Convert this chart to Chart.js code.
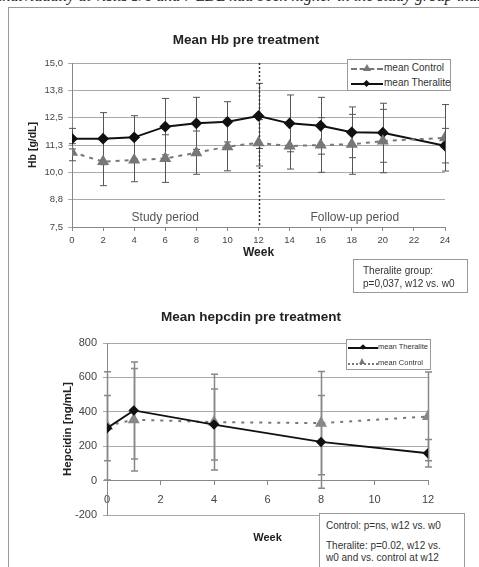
<!DOCTYPE html>
<html>
<head>
<meta charset="utf-8">
<script src="https://cdn.jsdelivr.net/npm/chart.js@4.4.1/dist/chart.umd.min.js"></script>
<style>
  body { margin:0; width:479px; height:567px; overflow:hidden; background:#fff; position:relative;
         font-family:'Liberation Sans', Arial, sans-serif; }
  .abs { position:absolute; }
  .cut { left:0; top:0; width:479px; height:6px; overflow:hidden; }
  .cut div { position:absolute; left:-2px; top:-12px; white-space:nowrap; font:italic 16px/16px 'Liberation Serif', 'Times New Roman', serif; color:#222; }
  .box { position:absolute; box-sizing:border-box; background:#fff; border:1px solid #999; color:#333; }
  .leg .row { position:absolute; left:0; right:0; height:14px; }
  .leg .smp { position:absolute; top:7px; height:0; }
  .leg .t { position:absolute; top:0; line-height:14px; white-space:nowrap; }
  .tri { position:absolute; width:0; height:0; border-left:4px solid transparent; border-right:4px solid transparent; border-bottom:7px solid #777; }
  .dia { position:absolute; width:5px; height:5px; background:#111; transform:rotate(45deg); }
</style>
</head>
<body>

<div class="abs cut"><div>individually at visits 5/6 and 7 LDL had been higher in the study group than in the control group</div></div>
<div class="abs" style="left:8px;top:7px;width:480px;height:1px;background:#999"></div>
<div class="abs" style="left:8px;top:7px;width:1px;height:570px;background:#999"></div>

<div class="abs" style="left:13px;top:8px;width:466px;height:255px"><canvas id="hb"></canvas></div>
<div class="abs" style="left:22px;top:300px;width:458px;height:267px"><canvas id="hep"></canvas></div>

<!-- legend, Hb chart -->
<div class="box leg" style="left:347px;top:59px;width:104px;height:32px;font-size:10px">
  <div class="row" style="top:1px">
    <div class="smp" style="left:3px;width:32px;border-top:2px dashed #777"></div>
    <div class="tri" style="left:15px;top:3px"></div>
    <div class="t" style="left:36px">mean Control</div>
  </div>
  <div class="row" style="top:16px">
    <div class="smp" style="left:3px;width:32px;border-top:2px solid #111"></div>
    <div class="dia" style="left:16px;top:5px"></div>
    <div class="t" style="left:36px">mean Theralite</div>
  </div>
</div>

<!-- legend, hepcidin chart -->
<div class="box leg" style="left:346px;top:339px;width:85px;height:31px;font-size:7.5px">
  <div class="row" style="top:0px">
    <div class="smp" style="left:1px;width:30px;border-top:2px solid #111"></div>
    <div class="dia" style="left:14px;top:5px;width:4px;height:4px"></div>
    <div class="t" style="left:31px">mean Theralite</div>
  </div>
  <div class="row" style="top:16px">
    <div class="smp" style="left:1px;width:30px;border-top:2px dotted #777"></div>
    <div class="tri" style="left:12px;top:2px;border-bottom-width:6px;border-left-width:3.5px;border-right-width:3.5px"></div>
    <div class="t" style="left:31px">mean Control</div>
  </div>
</div>

<div class="box" style="left:353px;top:259px;width:115px;height:34px;font-size:10px;line-height:13px;padding:4px 0 0 9px">
  Theralite group:<br>p=0,037, w12 vs. w0
</div>

<div class="box" style="left:319px;top:513px;width:146px;height:62px;font-size:10px;line-height:12px;padding:6px 0 0 6px">
  <div>Control: p=ns, w12 vs. w0</div>
  <div style="margin-top:8px">Theralite: p=0.02, w12 vs.<br>w0 and vs. control at w12</div>
</div>

<script>
// ---- data ----
const hbWeeks = [0, 2, 4, 6, 8, 10, 12, 14, 16, 18, 20, 24];
const hbTheralite    = [11.54, 11.54, 11.60, 12.09, 12.24, 12.31, 12.58, 12.24, 12.13, 11.83, 11.81, 11.22];
const hbTheraliteErr = [0.47, 1.19, 0.99, 1.29, 1.19, 0.92, 1.49, 1.30, 1.30, 1.16, 1.35, 0.79];
const hbControl      = [10.92, 10.49, 10.56, 10.63, 10.90, 11.17, 11.35, 11.20, 11.25, 11.28, 11.43, 11.58];
const hbControlErr   = [0.39, 1.10, 0.99, 1.09, 0.99, 1.10, 1.06, 1.05, 1.25, 1.37, 1.45, 1.52];
const hbTickLabels = ['7,5', '8,8', '10,0', '11,3', '12,5', '13,8', '15,0'];

const hepWeeks = [0, 1, 4, 8, 12];
const hepTheralite    = [305, 408, 326, 225, 159];
const hepTheraliteErr = [190, 282, 206, 270, 80];
const hepControl      = [318, 354, 340, 334, 373];
const hepControlErr   = [315, 298, 278, 300, 258];

const FONT = "'Liberation Sans', Arial, sans-serif";
Chart.defaults.font.family = FONT;

function pts(xs, ys) { return xs.map((x, i) => ({x: x, y: ys[i]})); }

// vertical error bars, one list of +/- values per dataset
const errorBars = {
  id: 'errorBars',
  beforeDatasetsDraw(chart, args, opts) {
    const ctx = chart.ctx, xs = chart.scales.x, ys = chart.scales.y;
    ctx.save();
    ctx.strokeStyle = opts.color;
    ctx.lineWidth = opts.width;
    chart.data.datasets.forEach((ds, di) => {
      const errs = opts.errors[di];
      ds.data.forEach((p, i) => {
        const x = Math.round(xs.getPixelForValue(p.x)) + 0.5;
        const top = ys.getPixelForValue(p.y + errs[i]);
        const bot = ys.getPixelForValue(p.y - errs[i]);
        ctx.beginPath();
        ctx.moveTo(x, top); ctx.lineTo(x, bot);
        ctx.moveTo(x - 3.5, top); ctx.lineTo(x + 3.5, top);
        ctx.moveTo(x - 3.5, bot); ctx.lineTo(x + 3.5, bot);
        ctx.stroke();
      });
    });
    ctx.restore();
  }
};

// week 12 divider and period captions
const periods = {
  id: 'periods',
  beforeDatasetsDraw(chart) {
    const ctx = chart.ctx, xs = chart.scales.x, ys = chart.scales.y, a = chart.chartArea;
    const x = Math.round(xs.getPixelForValue(12)) + 0.5;
    ctx.save();
    ctx.strokeStyle = '#333';
    ctx.lineWidth = 1.5;
    ctx.setLineDash([2, 2]);
    ctx.beginPath();
    ctx.moveTo(x, a.top); ctx.lineTo(x, a.bottom);
    ctx.stroke();
    ctx.fillStyle = '#555';
    ctx.font = '12px ' + FONT;
    ctx.textAlign = 'center';
    ctx.textBaseline = 'middle';
    ctx.fillText('Study period', xs.getPixelForValue(6), ys.getPixelForValue(7.93));
    ctx.fillText('Follow-up period', xs.getPixelForValue(18.2), ys.getPixelForValue(7.93));
    ctx.restore();
  }
};

new Chart(document.getElementById('hb'), {
  type: 'line',
  data: {
    datasets: [
      { label: 'mean Control', data: pts(hbWeeks, hbControl),
        borderColor: '#777', borderWidth: 2, borderDash: [4, 5],
        pointStyle: 'triangle', pointRadius: 5, pointBackgroundColor: '#777', pointBorderColor: '#777' },
      { label: 'mean Theralite', data: pts(hbWeeks, hbTheralite),
        borderColor: '#111', borderWidth: 2,
        pointStyle: 'rectRot', pointRadius: 4.5, pointBackgroundColor: '#111', pointBorderColor: '#111' }
    ]
  },
  options: {
    responsive: true, maintainAspectRatio: false, animation: false,
    layout: { padding: 0 },
    plugins: {
      legend: { display: false },
      tooltip: { enabled: false },
      title: { display: true, text: 'Mean Hb pre treatment', color: '#222',
               font: { size: 13.5, weight: 'bold' }, padding: { top: 23.9, bottom: 14.9 } },
      errorBars: { color: '#555', width: 1, errors: [hbControlErr, hbTheraliteErr] }
    },
    scales: {
      x: {
        type: 'linear', min: 0, max: 24,
        ticks: { stepSize: 2, color: '#444', font: { size: 9.5 }, padding: 4, maxRotation: 0 },
        grid: { drawOnChartArea: false, tickLength: 4, color: '#888' },
        border: { color: '#888' },
        title: { display: true, text: 'Week', color: '#222', font: { size: 12, weight: 'bold' },
                 padding: { top: 0, bottom: 2.8 } },
        afterFit(s) { s.height = 36; s.paddingRight = 34; }
      },
      y: {
        min: 7.5, max: 15,
        ticks: { stepSize: 1.25, color: '#444', font: { size: 9.5 }, padding: 5,
                 callback: (v, i) => hbTickLabels[i] },
        grid: { color: '#aaa', tickLength: 4 },
        border: { color: '#888' },
        title: { display: true, text: 'Hb [g/dL]', color: '#222', font: { size: 10.5, weight: 'bold' },
                 padding: { top: 13.7, bottom: 0 } },
        afterFit(s) { s.width = 59; }
      }
    }
  },
  plugins: [errorBars, periods]
});

new Chart(document.getElementById('hep'), {
  type: 'line',
  data: {
    datasets: [
      { label: 'mean Theralite', data: pts(hepWeeks, hepTheralite),
        borderColor: '#111', borderWidth: 1.8,
        pointStyle: 'rectRot', pointRadius: 4, pointBackgroundColor: '#111', pointBorderColor: '#111' },
      { label: 'mean Control', data: pts(hepWeeks, hepControl),
        borderColor: '#777', borderWidth: 2, borderDash: [3, 6],
        pointStyle: 'triangle', pointRadius: 5, pointBackgroundColor: '#888', pointBorderColor: '#888' }
    ]
  },
  options: {
    responsive: true, maintainAspectRatio: false, animation: false,
    layout: { padding: { bottom: 52 } },
    plugins: {
      legend: { display: false },
      tooltip: { enabled: false },
      title: { display: true, text: 'Mean hepcdin pre treatment', color: '#222',
               font: { size: 13.5, weight: 'bold' }, padding: { top: 8.9, bottom: 17.9 } },
      errorBars: { color: '#888', width: 1.5, errors: [hepTheraliteErr, hepControlErr] }
    },
    scales: {
      x: {
        type: 'linear', min: 0, max: 12, position: { y: 0 },
        ticks: { stepSize: 2, color: '#444', font: { size: 11 }, padding: 9, maxRotation: 0 },
        grid: { drawOnChartArea: false, tickLength: 4, color: '#888' },
        border: { color: '#888' },
        title: { display: true, text: 'Week', color: '#222', font: { size: 11, weight: 'bold' },
                 padding: { top: 0, bottom: 6.4 } },
        afterFit(s) { s.height = 70; s.paddingRight = 52; }
      },
      y: {
        min: -200, max: 800,
        ticks: { stepSize: 200, color: '#444', font: { size: 11 }, padding: 6 },
        grid: { color: '#aaa', tickLength: 4 },
        border: { color: '#888' },
        title: { display: true, text: 'Hepcidin [ng/mL]', color: '#222', font: { size: 11.5, weight: 'bold' },
                 padding: { top: 39, bottom: 0 } },
        afterFit(s) { s.width = 85; }
      }
    }
  },
  plugins: [errorBars]
});
</script>
</body>
</html>
